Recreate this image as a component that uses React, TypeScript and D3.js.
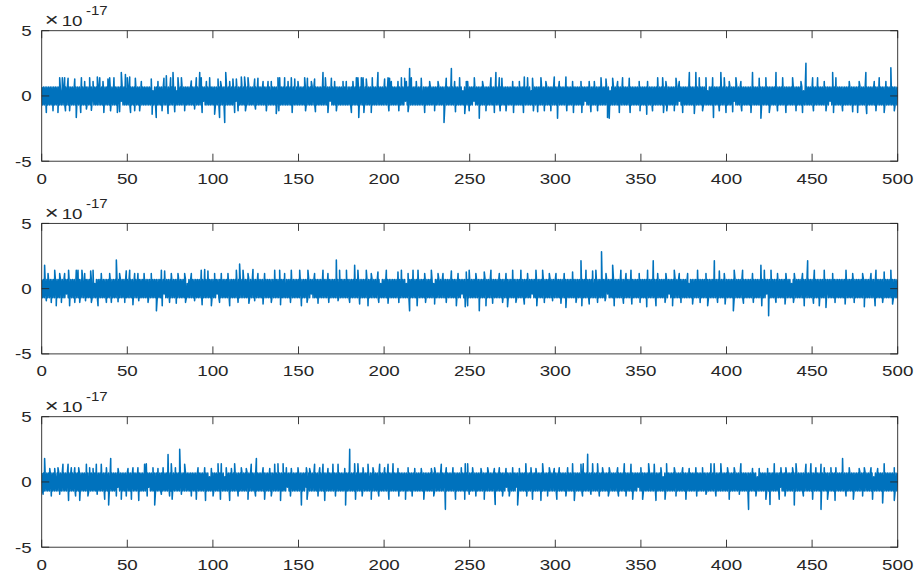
import React from "react";
import * as d3 from "d3";

// Axis settings (values are in units of 1e-17)
const X_TICKS = [0, 50, 100, 150, 200, 250, 300, 350, 400, 450, 500];
const Y_TICKS = [-5, 0, 5];
const X_DOMAIN: [number, number] = [0, 500];
const Y_DOMAIN: [number, number] = [-5, 5];
const EXPONENT = "-17";

// Sample codes of the dense residual band:
// '+' / '-' one quantum up / down, 'p' / 'm' a smaller step up / down
const BAND_LEVELS: Record<string, number> = { "+": 0.69, "-": -0.69, p: 0.4, m: -0.4 };

const bandTop = [
  "+-+-+-+-+-+-+-+-+-+-+-p-+-+-+-+-+-+-+-+-+-+-+-+-+-",
  "+-+-+-+-+m+-+-+-+-+-+-+-+-+-+-+-+-+-+-+-+-+m+-+-+-",
  "+-+-+-+-+-+-+-+-+-+-+-+-+-+-+-p-+-+-+-+-+-+-+-+-+-",
  "+-+-+-+-p-+-+-+-+-+-+-+-+-+-+-+-+-+-+-+m+-+-+-+-+-",
  "+-+-+-+-+-+-+-+-+-+-+-+-+-+m+-+-+-+-+-+-+-+-+-+-+-",
  "+-+-+-+-+-+-+-+-+-p-+-+-+-+-+-+-+-+-+-+-+-+-+-p-+-",
  "+-+-+-+-+-+-+-+-+-+-+-+-+-+-+-+-+-+-+m+-+-+-+-+-+-",
  "+-+-+-p-+-+-+-+-+-+-+-+-+-+-+-+-+-+-+-+-+-+-+-+-+-",
  "+-+-+-+-+-+-+-+-+-+-+-+-+m+-+-+-+-+-+-+-+-+-p-+-+-",
  "+-+-+-+-+-+-+-+-+-+-+-+-+-+-+-+-+-+-+-+-+-p-+-+-+-",
  "+-+-+m+-+-+-+-+-+-+-+-+-+-+-+-+-+-+-+-+-+-+-+-+-+-",
  "+-+-+-+-+-+-+-+-+-+-+-p-+-+-+-+-+-+-+-+-+-+-+-+-+-",
  "+-+-+-+-+-+-+-+-+-+-+-+-+-+-+-+-+-+m+-+-+-+-+-+-+-",
  "+-+-+-+-+-+-+-p-+-+-+-+-+-+-+-+-+-+-+-+-+-+-+-+-+-",
  "+-+-+-+-+-+-+-+-+-+-+-+-+-+-+-+-+-+-+-+-+-+-+m+-+-",
  "+-+-+-+-+-+-+-+-+-+-+-+-+-+-p-+-+-+-+-+-+-+-+-+-+-",
  "+-+-+-+-+m+-+-+-+-+-+-+-+-+-+-+-+-+-+-+-+-+-+-+-+-",
  "+-+-+-+-+-+-+-+-+-+-+-+-+-+-+-+-+-+-+-+-p-+-+-+-+-",
  "+-+-+-+-+-+-+-+-+-+-+m+-+-+-+-+-+-+-+-+-+-+-+-+-+-",
  "+-+-+-+-+-+-+-+-+-+-+-+-+-+-+-+-+-+-+-+-+-+-+-+-+-+",
].join("");

const bandMid = [
  "+-+-+-+-+-+-+-+-+-+-+-+-+-+-+m+-+-+-+-+-+-+-+-+-+-",
  "+-+-+-+-+-+-p-+-+-+-+-+-+-+-+-+-+-+-+-+-+-+-+-+-+-",
  "+-+-+-+-+-+-+-+-+-+-+-+-+-+-+-+-+-+-+-+-+-+m+-+-+-",
  "+-+-+-+-+-+-+-+-+-+-p-+-+-+-+-+-+-+-+-+-+-+-+-+-+-",
  "+-+-+m+-+-+-+-+-+-+-+-+-+-+-+-+-+-+-+-+-+-+-+-+-+-",
  "+-+-+-+-+-+-+-+-+-+-+-+-+-+-+-+-+-p-+-+-+-+-+-+-+-",
  "+-+-+-+-+-+-+-+m+-+-+-+-+-+-+-+-+-+-+-+-+-+-+-+-+-",
  "+-+-+-+-+-+-+-+-+-+-+-+-+-+-+-+-+-+-+-+-+-+-+-p-+-",
  "+-+-+-+-+-+-+-+-+-+-+-+-+-p-+-+-+-+-+-+-+-+-+-+-+-",
  "+-+-+-+-p-+-+-+-+-+-+-+-+-+-+-+-+-+-+-+-+m+-+-+-+-",
  "+-+-+-+-+-+-+-+-+-+-+-+-+-+-+-+-+-+-+-+-+-+-+-+-+-",
  "+-+-+-+-+-+-+-+-+-+-+-+m+-+-+-+-+-+-+-+-+-+-+-+-+-",
  "+-+-+-+-+-+-+-+-+-+-+-+-+-+-+-+-+-+-+-+-+-+-p-+-+-",
  "+-+-+-+-+-+m+-+-+-+-+-+-+-+-+-+-+-+-+-+-+-+-+-+-+-",
  "+-+-+-+-+-+-+-+-+-+-+-+-+-+-+-+-+m+-+-+-+-+-+-+-+-",
  "+-+-+-p-+-+-+-+-+-+-+-+-+-+-+-+-+-+-+-+-+-+-+-+-+-",
  "+-+-+-+-+-+-+-+-+-+-+-+-+-+-+-+-+-+-+-+-+-+-+-+m+-",
  "+-+-+-+-+-+-+-+-+-+-+-+-+-p-+-+-+-+-+-+-+-+-+-+-+-",
  "+-+-+-+-+-+-+-+-+m+-+-+-+-+-+-+-+-+-+-+-+-+-+-+-+-",
  "+-+-+-+-+-+-+-+-+-+-+-+-+-+-+-+-+-+-+-+-+-+-+-+-+-+",
].join("");

const bandBottom = [
  "+-+-+-+-+-+-+-+-p-+-+-+-+-+-+-+-+-+-+-+-+-+-+-+-+-",
  "+-+-+-+-+-+-+-+-+-+-+-+-+-+-+-+-+-+-+-+m+-+-+-+-+-",
  "+-+-+-+-+-+-+-+-+-+-+-+-+m+-+-+-+-+-+-+-+-+-+-+-+-",
  "+-+-+-+-+-+-+-+-+-+-+-+-+-+-+-+-+-+-+-+-+-+-+-p-+-",
  "+-+-+-+-+-+-+-p-+-+-+-+-+-+-+-+-+-+-+-+-+-+-+-+-+-",
  "+-+-+-+-+-+-+-+-+-+-+-+-+-+-+-+-+-+-+m+-+-+-+-+-+-",
  "+-+-+-+-+m+-+-+-+-+-+-+-+-+-+-+-+-+-+-+-+-+-+-+-+-",
  "+-+-+-+-+-+-+-+-+-+-+-+-+-+-+-+-p-+-+-+-+-+-+-+-+-",
  "+-+-+-+-+-+-+-+-+-+-+-+-+-+-+-+-+-+-+-+-+-+-+-+-+-",
  "+-+-+-+-+-+-+-+-+-+-+m+-+-+-+-+-+-+-+-+-+-+-+-+-+-",
  "+-+-+-+-+-+-+-+-+-+-+-+-+-+-+-+-+-+-+-+-+-+m+-+-+-",
  "+-+-+m+-+-+-+-+-+-+-+-+-+-+-+-+-+-+-+-+-+-+-+-+-+-",
  "+-+-+-+-+-+-+-+-+-+-+-+-+-+-+-+-+-+-+-+-+-+-+-+-+-",
  "+-+-+-+-+-+-+-+-+-+-+-+-+-+-+-+-+-+-+-+-+-+-+-+m+-",
  "+-+-+-+-+-+-+-+-+-+-+-+-+-p-+-+-+-+-+-+-+-+-+-+-+-",
  "+-+-+-+-+-+-+-+-+-+-+-+-+-+-+-+-+-+-+-+-+-+-+-+-+-",
  "+-+-+-+-+-+-+-+-+-+-+-+-+-+-+-+-+-+-p-+-+-+-+-+-+-",
  "+-+-+-+-+-+-+m+-+-+-+-+-+-+-+-+-+-+-+-+-+-+-+-+-+-",
  "+-+-+-+-+-+-+-+-+-+-+-+-+-+-+-+-+-+-+-+-+-+-+-+-+-",
  "+-+-+-+-+-+-+-+-+-+-+-p-+-+-+-+-+-+-+-+-+-+-+-+-+-+",
].join("");

// Isolated excursions above and below the band: [time, value ×1e-17]
const peaksTop: [number, number][] = [
  [10.5, 1.4], [12.05, 1.4], [13.4, 1.4], [15.4, 1.35], [19.3, 1.3], [23.2, 1.4], [25.1, 1.1], [28.0, 1.4],
  [30.0, 1.1], [32.5, 1.45], [33.9, 1.4], [35.8, 1.1], [38.7, 1.3], [39.7, 1.4], [42.2, 1.4], [46.5, 1.8],
  [48.9, 1.65], [50.0, 1.4], [51.4, 1.45], [54.7, 1.35], [58.2, 1.1], [64.0, 1.3], [67.9, 1.1], [71.4, 1.35],
  [72.8, 1.55], [75.3, 1.4], [76.7, 1.8], [79.6, 1.4], [81.6, 1.4], [87.4, 1.15], [90.3, 1.4], [92.3, 1.8],
  [93.2, 1.4], [96.2, 1.1], [98.1, 1.4], [103.0, 1.3], [104.5, 1.1], [107.5, 1.8], [109.8, 1.1], [111.7, 1.3],
  [113.7, 1.3], [116.6, 1.45], [118.5, 1.45], [120.5, 1.4], [124.4, 1.3], [126.3, 1.35], [129.3, 1.1],
  [132.2, 1.1], [134.1, 1.1], [138.0, 1.4], [139.0, 1.4], [141.9, 1.4], [143.9, 1.1], [145.8, 1.4],
  [147.8, 1.3], [149.7, 1.1], [153.6, 1.4], [155.2, 1.35], [157.5, 1.1], [159.4, 1.3], [164.3, 1.8],
  [165.7, 1.4], [169.2, 1.35], [171.1, 1.1], [176.0, 1.1], [177.9, 1.1], [181.8, 1.1], [183.8, 1.4],
  [184.7, 1.4], [186.7, 1.4], [187.7, 1.4], [189.6, 1.3], [193.1, 1.4], [196.4, 1.8], [200.3, 1.3],
  [202.3, 1.4], [203.2, 1.35], [204.2, 1.1], [208.1, 1.1], [210.1, 1.4], [212.0, 1.35], [213.0, 1.1],
  [214.9, 2.1], [215.9, 1.4], [218.8, 1.1], [221.7, 1.35], [226.6, 1.1], [231.5, 1.1], [236.3, 1.35],
  [239.3, 2.1], [241.2, 1.1], [244.1, 1.4], [248.0, 1.1],
  [248.8, 1.1], [252.7, 1.4], [257.5, 1.1], [262.4, 1.4], [265.3, 1.8], [267.3, 1.4], [268.8, 1.35],
  [275.1, 1.1], [279.0, 1.1], [281.9, 1.45], [283.8, 1.4], [286.7, 1.35], [291.6, 1.4], [294.5, 1.1],
  [299.4, 1.45], [302.3, 1.1], [306.2, 1.45], [310.1, 1.1], [315.0, 1.1], [319.8, 1.1], [322.8, 1.1],
  [326.7, 1.4], [329.6, 1.3], [333.5, 1.35], [336.4, 1.1], [339.3, 1.4], [343.2, 1.35], [349.0, 1.1],
  [353.9, 1.1], [359.8, 1.4], [362.7, 1.4], [364.6, 1.1], [370.5, 1.35], [372.4, 1.1], [378.3, 1.8],
  [382.1, 1.8], [384.1, 1.4], [388.0, 1.4], [391.9, 1.4], [396.7, 1.8], [398.7, 1.4], [401.6, 1.1],
  [405.5, 1.4], [408.4, 1.1], [415.2, 1.8], [419.1, 1.35], [423.0, 1.4], [428.9, 1.8], [432.8, 1.4],
  [438.6, 1.4], [443.5, 1.1], [446.4, 2.5], [450.3, 1.4], [453.2, 1.4], [457.1, 1.1], [462.0, 1.8],
  [463.9, 1.4], [471.7, 1.1], [477.5, 1.1], [481.4, 1.8], [486.3, 1.1], [489.2, 1.4], [493.1, 1.1],
  [496.0, 2.15],
];

const troughsTop: [number, number][] = [
  [2.7, -1.27], [6.6, -1.14], [9.5, -1.27], [13.9, -1.14], [16.3, -1.14], [20.2, -1.65], [22.8, -1.27],
  [26.1, -1.0], [29.0, -1.1], [36.3, -1.27], [40.2, -1.14], [44.2, -1.27], [45.5, -1.2], [51.9, -1.27],
  [54.3, -1.14], [57.2, -1.14], [64.5, -1.4], [66.9, -1.65], [70.3, -1.14], [73.8, -1.35], [77.7, -1.2],
  [83.5, -1.14], [89.3, -1.0], [93.7, -1.27], [101.0, -1.4], [103.9, -1.65], [106.9, -2.03], [112.7, -1.27],
  [114.7, -1.14], [119.0, -1.14], [124.9, -1.0], [131.2, -1.14], [137.0, -1.35], [138.5, -1.14],
  [146.3, -1.27], [154.1, -1.14], [159.9, -1.2], [167.2, -1.27], [172.1, -1.14], [180.9, -1.27],
  [185.2, -1.65], [188.2, -1.27], [192.5, -1.27], [202.8, -1.14], [208.6, -1.14], [214.0, -1.2],
  [223.7, -1.27], [229.5, -1.14], [235.0, -2.03], [241.7, -1.2], [247.1, -1.35],
  [249.7, -1.14], [255.6, -1.7], [259.5, -1.14], [264.4, -1.27], [267.8, -1.14], [271.2, -1.14],
  [275.6, -1.27], [281.4, -1.27], [287.2, -1.14], [289.7, -1.2], [293.6, -1.14], [297.4, -1.14],
  [301.3, -1.7], [306.7, -1.14], [310.6, -1.27], [315.5, -1.27], [320.8, -1.2], [324.7, -1.14],
  [330.5, -1.65], [331.5, -1.7], [337.4, -1.27], [343.7, -1.27], [349.5, -1.14], [353.4, -1.4],
  [356.8, -1.14], [363.2, -1.27], [365.1, -1.14], [369.5, -1.14], [374.4, -1.27], [381.2, -1.35],
  [386.0, -1.14], [392.4, -1.65], [395.8, -1.14], [399.7, -1.27], [403.6, -1.2], [408.9, -1.14],
  [414.3, -1.27], [420.1, -1.7], [425.0, -1.27], [429.8, -1.14], [434.7, -1.27], [440.6, -1.14],
  [444.4, -1.27], [450.8, -1.14], [458.1, -1.14], [462.5, -1.27], [467.8, -1.14], [473.7, -1.2],
  [476.6, -1.27], [481.9, -1.35], [487.3, -1.14], [492.1, -1.27], [498.0, -1.14],
];

const peaksMid: [number, number][] = [
  [1.7, 1.8], [3.7, 1.15], [7.6, 1.41], [10.5, 1.15], [13.4, 1.15], [15.7, 1.41], [20.2, 1.41], [21.2, 1.41],
  [23.5, 1.41], [25.1, 1.15], [28.6, 1.36], [30.0, 1.41], [34.8, 1.15], [39.7, 1.15], [43.6, 2.19],
  [45.5, 1.15], [49.4, 1.36], [51.4, 1.41], [54.3, 1.15], [56.2, 1.15], [59.8, 1.15], [64.0, 1.15],
  [69.9, 1.41], [71.8, 1.36], [75.7, 1.15], [79.6, 1.15], [83.5, 1.15], [87.4, 1.15], [93.2, 1.41],
  [95.2, 1.46], [97.1, 1.36], [101.0, 1.15], [104.9, 1.15], [108.8, 1.15], [113.7, 1.41], [115.6, 1.88],
  [117.6, 1.41], [120.5, 1.15], [123.4, 1.46], [126.3, 1.15], [130.2, 1.15], [136.1, 1.41], [139.0, 1.41],
  [141.9, 1.15], [145.8, 1.41], [150.7, 1.41], [155.5, 1.41], [159.4, 1.15], [164.3, 1.41], [167.2, 1.15],
  [172.1, 2.19], [174.0, 1.41], [178.0, 1.41], [182.8, 1.8], [184.7, 1.41], [189.6, 1.41], [192.5, 1.15],
  [196.4, 1.28], [201.3, 1.41], [208.1, 1.28], [210.1, 1.41], [214.0, 1.15], [216.9, 1.41], [219.8, 1.41],
  [223.7, 1.15], [227.6, 1.41], [231.5, 1.15], [234.4, 1.15], [239.3, 1.36], [243.2, 1.15], [248.0, 1.28],
  [249.7, 1.41], [253.6, 1.15], [258.5, 1.28], [262.4, 1.41], [267.3, 1.15], [271.2, 1.15], [275.1, 1.41],
  [279.9, 1.41], [283.8, 1.15], [288.7, 1.41], [292.6, 1.41], [296.5, 1.15], [300.4, 1.15], [305.2, 1.15],
  [310.1, 1.28], [315.0, 2.13], [317.9, 1.41], [321.8, 1.36], [323.7, 1.41], [327.0, 2.83], [329.6, 1.15],
  [333.5, 1.8], [338.3, 1.41], [341.3, 1.15], [344.2, 1.41], [349.0, 1.15], [353.9, 1.41], [357.2, 2.13],
  [359.8, 1.15], [364.6, 1.15], [369.5, 1.41], [372.4, 1.15], [377.3, 1.15], [383.1, 1.41], [388.0, 1.15],
  [392.9, 2.13], [395.8, 1.36], [398.7, 1.15], [404.5, 1.41], [409.4, 1.41], [415.2, 1.15], [420.1, 1.8],
  [422.1, 1.41], [426.0, 1.41], [429.8, 1.15], [434.7, 1.15], [439.6, 1.15], [444.4, 1.15], [447.4, 2.13],
  [451.3, 1.41], [457.1, 1.41], [462.0, 1.15], [469.8, 1.41], [473.7, 1.15], [479.5, 1.15], [484.4, 1.15],
  [487.3, 1.41], [492.1, 1.28], [496.0, 1.41],
];

const troughsMid: [number, number][] = [
  [2.7, -0.92], [5.6, -1.05], [8.5, -1.31], [11.5, -1.05], [16.3, -1.31], [19.3, -1.05], [22.2, -1.05],
  [25.6, -0.92], [29.0, -1.05], [32.9, -1.31], [37.8, -1.05], [40.7, -1.05], [44.6, -1.0], [48.5, -1.05],
  [53.3, -1.23], [56.7, -0.92], [62.1, -1.05], [67.0, -1.7], [70.4, -1.31], [74.7, -1.05], [78.6, -1.12],
  [84.0, -1.05], [89.3, -0.92], [93.7, -1.23], [99.1, -1.31], [103.9, -1.05], [109.8, -1.31], [114.7, -1.05],
  [121.0, -1.12], [124.4, -0.92], [129.3, -1.18], [134.1, -1.05], [139.5, -1.23], [145.3, -1.05],
  [151.7, -1.31], [155.0, -1.05], [161.4, -1.12], [167.7, -1.05], [173.1, -0.92], [179.9, -1.05],
  [185.7, -1.18], [190.6, -1.31], [196.9, -1.05], [202.3, -1.12], [208.6, -1.05], [214.9, -1.7],
  [219.3, -1.31], [224.2, -1.05], [229.5, -1.18], [236.3, -1.05], [242.2, -1.31], [247.4, -1.39],
  [248.8, -1.31], [255.6, -1.7], [259.5, -1.31], [263.4, -1.12], [269.2, -1.05], [272.1, -1.39],
  [277.0, -1.05], [281.9, -1.18], [289.2, -1.31], [293.6, -1.05], [298.4, -0.92], [303.3, -1.12],
  [306.2, -1.44], [312.1, -1.05], [315.5, -1.31], [319.8, -1.18], [324.7, -1.05], [329.1, -0.92],
  [334.4, -1.31], [339.8, -1.12], [344.7, -1.18], [349.5, -1.05], [353.4, -1.39], [358.8, -1.31],
  [364.1, -1.05], [368.5, -1.31], [373.4, -1.05], [380.2, -1.18], [384.6, -1.05], [389.0, -1.31],
  [394.8, -1.05], [399.2, -1.18], [404.0, -1.7], [409.9, -1.12], [415.7, -1.05], [420.6, -1.31],
  [424.6, -2.08], [428.9, -1.05], [434.2, -1.18], [439.1, -1.05], [445.4, -1.31], [450.8, -1.12],
  [454.2, -1.31], [458.1, -1.44], [463.4, -1.05], [469.3, -1.18], [474.6, -1.05], [480.5, -1.39],
  [486.8, -1.31], [491.2, -1.05], [497.0, -1.18],
];

const peaksBottom: [number, number][] = [
  [1.7, 1.8], [4.7, 1.02], [7.6, 1.02], [9.5, 1.09], [12.4, 1.35], [15.4, 1.35], [17.3, 1.09], [19.3, 1.09],
  [21.6, 1.09], [26.1, 1.35], [28.0, 1.09], [30.0, 1.02], [31.9, 1.35], [34.8, 1.35], [37.8, 1.09],
  [40.3, 1.8], [44.6, 1.02], [50.4, 1.02], [53.3, 1.09], [56.2, 1.09], [60.1, 1.35], [61.1, 1.4],
  [65.0, 1.09], [67.9, 1.02], [70.9, 1.09], [73.8, 2.1], [75.7, 1.4], [78.1, 1.09], [80.6, 2.5],
  [83.5, 1.35], [91.3, 1.09], [95.2, 1.09], [99.1, 1.02], [103.0, 1.4], [104.9, 1.4], [107.8, 1.09],
  [110.8, 1.02], [112.7, 1.4], [116.6, 1.09], [119.5, 1.02], [122.4, 1.35], [125.4, 1.8], [129.3, 1.09],
  [133.2, 1.02], [136.1, 1.35], [138.0, 1.4], [141.0, 1.4], [142.9, 1.09], [145.8, 1.02], [149.7, 1.09],
  [154.6, 1.09], [156.5, 1.02], [159.4, 1.35], [162.4, 1.09], [164.3, 1.35], [167.2, 1.02], [170.1, 1.35],
  [173.1, 1.35], [177.0, 1.02], [179.9, 2.5], [182.8, 1.4], [184.7, 1.4], [187.7, 1.09], [190.6, 1.35],
  [193.5, 1.09], [197.4, 1.35], [200.3, 1.09], [202.3, 1.35], [205.2, 1.4], [208.1, 1.02], [214.0, 1.09],
  [217.9, 1.02], [221.7, 1.02], [227.6, 1.02], [229.5, 1.09], [233.4, 1.35], [236.3, 1.09], [240.2, 1.09],
  [245.1, 1.09], [247.4, 1.4],
  [248.8, 1.4], [251.7, 1.09], [256.6, 1.02], [260.5, 1.09], [264.4, 1.02], [267.3, 1.09], [271.2, 1.02],
  [275.1, 1.09], [279.0, 1.02], [282.8, 1.4], [285.8, 1.09], [288.7, 1.02], [292.6, 1.4], [296.5, 1.09],
  [299.4, 1.02], [302.3, 1.09], [307.2, 1.09], [310.1, 1.4], [315.0, 1.35], [316.3, 1.4], [318.9, 2.13],
  [321.8, 1.4], [324.7, 1.4], [327.6, 1.09], [331.5, 1.09], [336.4, 1.09], [340.3, 1.4], [344.2, 1.35],
  [350.0, 1.09], [354.5, 1.4], [357.8, 1.35], [361.7, 1.09], [365.0, 1.4], [369.5, 1.09], [374.4, 1.09],
  [378.2, 1.02], [382.1, 1.09], [386.0, 1.09], [390.9, 1.4], [392.8, 1.4], [396.7, 1.4], [400.6, 1.09],
  [404.5, 1.09], [408.4, 1.4], [415.2, 1.02], [419.1, 1.02], [424.0, 1.02], [427.9, 1.4], [431.8, 1.09],
  [434.7, 1.09], [438.6, 1.09], [440.6, 1.4], [446.4, 1.35], [449.3, 1.4], [452.2, 1.09], [455.2, 1.35],
  [457.1, 1.09], [461.0, 1.09], [463.9, 1.09], [467.8, 1.8], [471.7, 1.09], [477.5, 1.02], [480.5, 1.09],
  [484.4, 1.09], [488.3, 1.02], [492.1, 1.4], [498.0, 1.09],
];

const troughsBottom: [number, number][] = [
  [0.8, -0.94], [5.6, -1.07], [10.5, -0.94], [15.7, -1.41], [19.8, -1.07], [22.2, -1.41], [27.0, -1.07],
  [32.4, -0.94], [36.8, -1.33], [39.1, -1.77], [43.6, -1.07], [46.5, -1.33], [49.4, -1.07], [52.4, -1.33],
  [56.7, -1.41], [61.6, -1.07], [66.0, -1.77], [69.9, -0.94], [74.7, -1.07], [76.2, -1.33], [81.6, -0.94],
  [87.4, -1.07], [90.3, -1.33], [95.7, -1.41], [100.1, -1.07], [104.4, -1.33], [109.8, -1.41],
  [114.7, -1.07], [120.5, -1.33], [124.9, -1.07], [130.2, -1.33], [134.1, -1.07], [139.5, -1.41],
  [145.3, -1.07], [151.7, -1.77], [155.0, -1.33], [161.4, -1.07], [165.3, -1.41], [171.6, -1.07],
  [177.5, -1.77], [183.3, -1.33], [187.2, -1.07], [192.5, -1.33], [196.9, -1.07], [202.8, -1.33],
  [208.6, -1.07], [212.5, -1.33], [216.4, -1.07], [223.2, -1.33], [229.0, -1.07], [235.8, -2.1],
  [241.7, -1.33], [247.1, -1.33],
  [249.7, -0.94], [253.6, -1.07], [258.5, -1.33], [264.9, -1.72], [269.2, -1.07], [273.1, -1.07],
  [278.0, -1.77], [283.3, -1.07], [286.7, -1.33], [291.6, -1.41], [295.5, -1.07], [300.9, -1.33],
  [306.2, -1.07], [311.1, -1.41], [315.9, -1.07], [320.8, -0.94], [325.7, -1.07], [331.0, -1.07],
  [336.9, -1.07], [341.3, -1.07], [345.2, -1.33], [351.0, -1.33], [358.8, -1.41], [364.1, -1.33],
  [370.5, -1.07], [376.3, -1.33], [382.6, -1.07], [388.0, -0.94], [393.8, -1.07], [401.6, -1.33],
  [407.5, -0.94], [412.9, -2.1], [417.2, -1.07], [423.0, -1.33], [425.4, -1.72], [430.8, -1.33],
  [434.2, -1.07], [439.6, -1.77], [444.9, -1.07], [450.3, -1.33], [455.2, -2.1], [459.0, -1.33],
  [463.4, -1.41], [469.8, -1.07], [474.1, -1.33], [479.5, -1.07], [485.3, -1.33], [491.2, -1.61],
  [498.0, -1.41],
];

type Pt = [number, number];

const PANELS = [
  { band: bandTop, peaks: peaksTop, troughs: troughsTop, top: 30.7 },
  { band: bandMid, peaks: peaksMid, troughs: troughsMid, top: 223.4 },
  { band: bandBottom, peaks: peaksBottom, troughs: troughsBottom, top: 416.7 },
];

const LEFT = 41.7;
const RIGHT = 897.7;
const PLOT_H = 130.5;
const TICK_LEN = 7.5;
const AXIS_COLOR = "#262626";
const LINE_COLOR = "#0072BD";
const FONT = "'Liberation Sans', Arial, Helvetica, sans-serif";
const STRETCH = 1.25;

function buildSeries(band: string, peaks: Pt[], troughs: Pt[]): Pt[] {
  const step = (X_DOMAIN[1] - X_DOMAIN[0]) / (band.length - 1);
  const base: Pt[] = Array.from(band, (c, i) => [X_DOMAIN[0] + i * step, BAND_LEVELS[c]] as Pt);
  return base.concat(peaks, troughs).sort((a, b) => a[0] - b[0]);
}

function Label({ x, y, text, anchor, size = 15 }: { x: number; y: number; text: string; anchor: string; size?: number }) {
  return (
    <g transform={`translate(${x},${y}) scale(${STRETCH},1)`}>
      <text x={0} y={0} textAnchor={anchor} fontFamily={FONT} fontSize={size} fill={AXIS_COLOR}>
        {text}
      </text>
    </g>
  );
}

function Panel({ band, peaks, troughs, top }: { band: string; peaks: Pt[]; troughs: Pt[]; top: number }) {
  const bottom = top + PLOT_H;
  const x = d3.scaleLinear().domain(X_DOMAIN).range([LEFT, RIGHT]);
  const y = d3.scaleLinear().domain(Y_DOMAIN).range([bottom, top]);
  const series = buildSeries(band, peaks, troughs);
  const line = d3
    .line<Pt>()
    .x((d) => x(d[0]))
    .y((d) => y(d[1]));
  const clipId = `clip-${Math.round(top)}`;

  return (
    <g>
      <clipPath id={clipId}>
        <rect x={LEFT} y={top} width={RIGHT - LEFT} height={PLOT_H} />
      </clipPath>
      <path
        d={line(series) ?? ""}
        fill="none"
        stroke={LINE_COLOR}
        strokeWidth={1.55}
        strokeLinejoin="round"
        clipPath={`url(#${clipId})`}
      />
      {/* box */}
      <rect x={LEFT} y={top} width={RIGHT - LEFT} height={PLOT_H} fill="none" stroke={AXIS_COLOR} strokeWidth={0.9} />
      {/* x ticks on bottom and top, pointing inward */}
      {X_TICKS.map((t) => (
        <g key={`xt${t}`}>
          <line x1={x(t)} x2={x(t)} y1={bottom} y2={bottom - TICK_LEN} stroke={AXIS_COLOR} strokeWidth={0.9} />
          <line x1={x(t)} x2={x(t)} y1={top} y2={top + TICK_LEN} stroke={AXIS_COLOR} strokeWidth={0.9} />
          <Label x={x(t)} y={bottom + 22.5} text={String(t)} anchor="middle" />
        </g>
      ))}
      {/* y ticks on left and right */}
      {Y_TICKS.map((t) => (
        <g key={`yt${t}`}>
          <line x1={LEFT} x2={LEFT + TICK_LEN} y1={y(t)} y2={y(t)} stroke={AXIS_COLOR} strokeWidth={0.9} />
          <line x1={RIGHT} x2={RIGHT - TICK_LEN} y1={y(t)} y2={y(t)} stroke={AXIS_COLOR} strokeWidth={0.9} />
          <Label x={LEFT - 10} y={y(t) + 5.3} text={String(t)} anchor="end" />
        </g>
      ))}
      {/* axis exponent */}
      <g transform={`translate(${LEFT + 3},${top - 4.7}) scale(${STRETCH},1)`}>
        <text x={0} y={0} fontFamily={FONT} fontSize={19} fill={AXIS_COLOR}>
          ×
        </text>
        <text x={13.6} y={0} fontFamily={FONT} fontSize={15} fill={AXIS_COLOR}>
          10
        </text>
        <text x={33} y={-11} fontFamily={FONT} fontSize={12} fill={AXIS_COLOR}>
          {EXPONENT}
        </text>
      </g>
    </g>
  );
}

export default function App() {
  return (
    <svg
      width={919}
      height={581}
      viewBox="0 0 919 581"
      style={{ position: "absolute", left: 0, top: 0, background: "#ffffff" }}
    >
      <rect x={0} y={0} width={919} height={581} fill="#ffffff" />
      {PANELS.map((p) => (
        <Panel key={p.top} band={p.band} peaks={p.peaks} troughs={p.troughs} top={p.top} />
      ))}
    </svg>
  );
}
